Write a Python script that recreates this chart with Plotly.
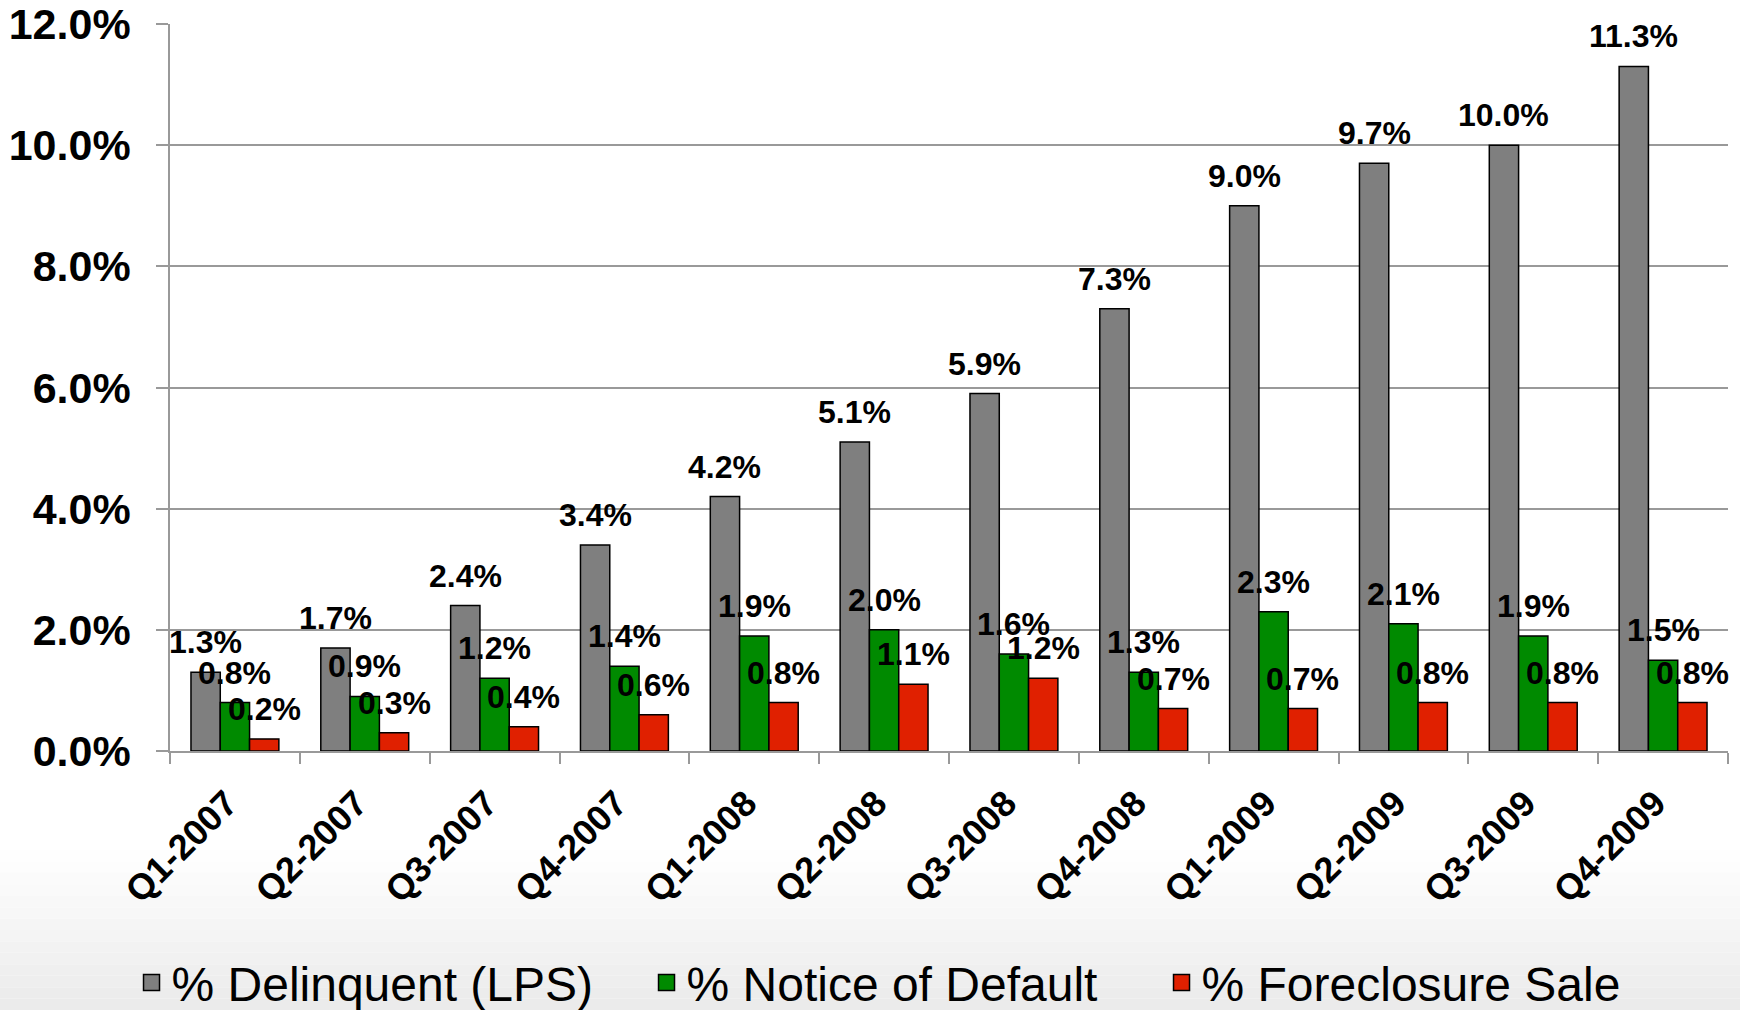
import plotly.graph_objects as go

categories = ["Q1-2007", "Q2-2007", "Q3-2007", "Q4-2007", "Q1-2008", "Q2-2008",
              "Q3-2008", "Q4-2008", "Q1-2009", "Q2-2009", "Q3-2009", "Q4-2009"]
delinquent = [1.3, 1.7, 2.4, 3.4, 4.2, 5.1, 5.9, 7.3, 9.0, 9.7, 10.0, 11.3]
notice_default = [0.8, 0.9, 1.2, 1.4, 1.9, 2.0, 1.6, 1.3, 2.3, 2.1, 1.9, 1.5]
foreclosure = [0.2, 0.3, 0.4, 0.6, 0.8, 1.1, 1.2, 0.7, 0.7, 0.8, 0.8, 0.8]
y_ticks = [0, 2, 4, 6, 8, 10, 12]

series = [
    ("% Delinquent (LPS)", delinquent, "#7F7F7F"),
    ("% Notice of Default", notice_default, "#008A00"),
    ("% Foreclosure Sale", foreclosure, "#E02000"),
]

FONT = "Liberation Sans, Arial, sans-serif"
W, H = 1740, 1010
ML, MR, MT, MB = 170, 12, 24, 259
BARGAP = 0.323
plot_w = W - ML - MR
plot_h = H - MT - MB
bar_px = plot_w / len(categories) * (1 - BARGAP) / len(series)

fig = go.Figure()
for name, vals, color in series:
    fig.add_trace(go.Bar(
        x=categories, y=vals, name=name,
        marker=dict(color=color, line=dict(color="#000000", width=1.5)),
        showlegend=False, hoverinfo="x+y",
    ))
# legend proxies
for name, vals, color in series:
    fig.add_trace(go.Scatter(
        x=[categories[0]], y=[None], name=name, mode="markers",
        marker=dict(symbol="square", size=16, color=color,
                    line=dict(color="#000000", width=1.5)),
        showlegend=True, hoverinfo="skip",
    ))

# data labels centred above each bar
annotations = []
for i, (name, vals, color) in enumerate(series):
    for cat, v in zip(categories, vals):
        annotations.append(dict(
            x=cat, y=v, xref="x", yref="y", text=f"<b>{v:.1f}%</b>",
            showarrow=False, xanchor="center", yanchor="bottom",
            xshift=(i - 1) * bar_px, yshift=10,
            font=dict(family=FONT, size=32, color="#000000"),
        ))

# soft grey gradient band at the bottom of the slide
shapes = []
n_bands = 14
top_px, bot_px = 850, H
for k in range(n_bands):
    y0_px = top_px + (bot_px - top_px) * k / n_bands
    y1_px = top_px + (bot_px - top_px) * (k + 1) / n_bands
    g = int(round(255 - (255 - 234) * (k + 0.5) / n_bands))
    shapes.append(dict(
        type="rect", xref="paper", yref="paper", layer="below",
        x0=-ML / plot_w, x1=1 + MR / plot_w,
        y0=(H - MB - y1_px) / plot_h, y1=(H - MB - y0_px) / plot_h,
        fillcolor=f"rgb({g},{g},{g})", line=dict(width=0),
    ))

fig.update_layout(
    width=W, height=H,
    paper_bgcolor="#FFFFFF", plot_bgcolor="rgba(0,0,0,0)",
    margin=dict(l=ML, r=MR, t=MT, b=MB, autoexpand=False),
    barmode="group", bargap=BARGAP, bargroupgap=0,
    font=dict(family=FONT, color="#000000"),
    showlegend=True,
    legend=dict(
        orientation="h", x=-0.0247, xanchor="left", y=-0.319, yanchor="middle",
        font=dict(family=FONT, size=48, color="#000000"),
        bgcolor="rgba(0,0,0,0)", itemclick=False,
        entrywidth=470, entrywidthmode="pixels",
    ),
    xaxis=dict(
        type="category", range=[-0.5, len(categories) - 0.5],
        tickangle=-45, tickson="boundaries",
        ticks="outside", ticklen=11, tickcolor="#999999", tickwidth=1.5,
        showline=True, linecolor="#999999", linewidth=1.5,
        showgrid=False, automargin=False,
        ticklabelshift=-8, ticklabelstandoff=15,
        tickfont=dict(family=FONT, size=36, color="#000000", weight="bold"),
    ),
    yaxis=dict(
        range=[0, 12], tickvals=y_ticks,
        ticktext=[f"{v:.1f}%" for v in y_ticks],
        ticks="outside", ticklen=12, tickcolor="#999999", tickwidth=1.5,
        showline=True, linecolor="#999999", linewidth=1.5,
        showgrid=True, gridcolor="#999999", gridwidth=1.5,
        zeroline=False, automargin=False,
        ticklabelstandoff=17,
        tickfont=dict(family=FONT, size=43, color="#000000", weight="bold"),
    ),
    annotations=annotations,
    shapes=shapes,
)

fig.write_html("out.html", config={"displayModeBar": False},
               post_script="document.body.style.margin='0';")
